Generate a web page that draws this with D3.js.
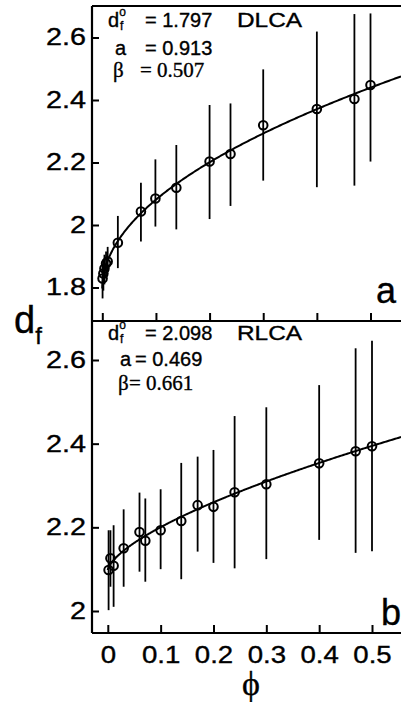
<!DOCTYPE html>
<html>
<head>
<meta charset="utf-8">
<script src="https://cdn.jsdelivr.net/npm/d3@7"></script>
<style>
  html, body { margin: 0; padding: 0; background: #fff; }
  svg { display: block; }
  .sans { font-family: "Liberation Sans", Arial, Helvetica, sans-serif; }
  .serif { font-family: "Liberation Serif", "Times New Roman", "DejaVu Serif", serif; }
  text { stroke: #000; stroke-width: 0.35px; }
</style>
</head>
<body>
<svg id="chart" width="401" height="702"></svg>
<script>
// Fractal dimension d_f versus volume fraction phi, two aggregation regimes.
// Panel a: DLCA
const dlcaPhi = [0.0005, 0.002, 0.004, 0.007, 0.010, 0.029, 0.072, 0.099, 0.138, 0.200, 0.239, 0.300, 0.400, 0.470, 0.500];
const dlcaDf  = [1.829, 1.845, 1.861, 1.877, 1.883, 1.943, 2.043, 2.085, 2.119, 2.203, 2.227, 2.319, 2.371, 2.403, 2.448];
const dlcaLo  = [1.765, 1.790, 1.810, 1.830, 1.850, 1.862, 1.947, 1.995, 1.986, 2.019, 2.061, 2.142, 2.121, 2.126, 2.203];
const dlcaHi  = [1.870, 1.890, 1.905, 1.915, 1.930, 2.029, 2.135, 2.210, 2.256, 2.384, 2.389, 2.498, 2.619, 2.675, 2.677];
const dlcaFit = { d0: 1.797, a: 0.913, beta: 0.507 };

// Panel b: RLCA
const rlcaPhi = [0.0015, 0.005, 0.011, 0.030, 0.060, 0.071, 0.100, 0.139, 0.170, 0.200, 0.240, 0.300, 0.400, 0.469, 0.500];
const rlcaDf  = [2.098, 2.126, 2.108, 2.150, 2.189, 2.168, 2.193, 2.215, 2.253, 2.249, 2.284, 2.303, 2.353, 2.382, 2.394];
const rlcaLo  = [2.002, 2.058, 2.010, 2.058, 2.094, 2.070, 2.100, 2.076, 2.142, 2.115, 2.102, 2.124, 2.170, 2.139, 2.143];
const rlcaHi  = [2.193, 2.193, 2.205, 2.243, 2.283, 2.269, 2.291, 2.354, 2.369, 2.385, 2.466, 2.487, 2.540, 2.628, 2.646];
const rlcaFit = { d0: 2.098, a: 0.469, beta: 0.661 };

// Tick values
const xTicks = [0, 0.1, 0.2, 0.3, 0.4, 0.5];
const yTicksA = [1.8, 2, 2.2, 2.4, 2.6];
const yTicksB = [2, 2.2, 2.4, 2.6];

const svg = d3.select("#chart");
const W = 401;
const frameLeft = 92;

// horizontal stretch about a text's own anchor x
const stretch = (x, s) => `translate(${x},0) scale(${s},1) translate(${-x},0)`;

const panels = [
  {
    phi: dlcaPhi, df: dlcaDf, lo: dlcaLo, hi: dlcaHi, fit: dlcaFit, yTicks: yTicksA,
    top: 6, bottom: 321, showXLabels: false,
    x: d3.scaleLinear().domain([0, 0.5]).range([102.3, 370.5]),
    y: d3.scaleLinear().domain([1.8, 2.6]).range([287.5, 37.5]),
    letter: "a", letterPos: [376, 303],
    name: "DLCA", d0txt: "= 1.797", atxt: "= 0.913", btxt: "= 0.507",
    rows: { base: [27, 55, 77], dX: 108, eqX: 145, nameX: 237, aX: 115, aEqX: 145, bX: 113, bEqX: 140 }
  },
  {
    phi: rlcaPhi, df: rlcaDf, lo: rlcaLo, hi: rlcaHi, fit: rlcaFit, yTicks: yTicksB,
    top: 321, bottom: 633, showXLabels: true,
    x: d3.scaleLinear().domain([0, 0.5]).range([107.8, 372]),
    y: d3.scaleLinear().domain([2, 2.6]).range([611, 360]),
    letter: "b", letterPos: [381, 625],
    name: "RLCA", d0txt: "= 2.098", atxt: "= 0.469", btxt: "= 0.661",
    rows: { base: [340, 366, 390], dX: 108, eqX: 145, nameX: 237, aX: 120, aEqX: 135, bX: 118, bEqX: 129 }
  }
];

panels.forEach((p, i) => {
  const g = svg.append("g");
  const clipId = "clip" + i;
  svg.append("clipPath").attr("id", clipId)
    .append("rect").attr("x", frameLeft).attr("y", p.top).attr("width", W - frameLeft).attr("height", p.bottom - p.top);

  // y axis with inward ticks
  const yAxis = d3.axisLeft(p.y).tickValues(p.yTicks).tickSizeInner(-7).tickSizeOuter(0).tickPadding(6)
    .tickFormat(d => String(d));
  const ya = g.append("g").attr("transform", `translate(${frameLeft},0)`).call(yAxis);
  ya.select(".domain").remove();
  ya.selectAll(".tick line").attr("stroke", "#000").attr("stroke-width", 2);
  ya.selectAll(".tick text").attr("class", "sans").attr("font-size", 23).attr("fill", "#000")
    .attr("x", null).attr("transform", "translate(-6,0) scale(1.25,1)");

  // x axis with inward ticks
  const xAxis = d3.axisBottom(p.x).tickValues(xTicks).tickSizeInner(-8).tickSizeOuter(0).tickPadding(14)
    .tickFormat(d => p.showXLabels ? (d === 0 ? "0" : d3.format(".1f")(d)) : "");
  const xa = g.append("g").attr("transform", `translate(0,${p.bottom})`).call(xAxis);
  xa.select(".domain").remove();
  xa.selectAll(".tick line").attr("stroke", "#000").attr("stroke-width", 2);
  xa.selectAll(".tick text").attr("class", "sans").attr("font-size", 23).attr("fill", "#000")
    .attr("transform", "scale(1.2,1)");

  // frame lines
  const frame = [
    [frameLeft, p.top, frameLeft, p.bottom],
    [frameLeft, p.top, W, p.top],
    [frameLeft, p.bottom, W, p.bottom]
  ];
  g.selectAll(".frame").data(frame).join("line")
    .attr("x1", d => d[0]).attr("y1", d => d[1]).attr("x2", d => d[2]).attr("y2", d => d[3])
    .attr("stroke", "#000").attr("stroke-width", 2.2);

  const plot = g.append("g").attr("clip-path", `url(#${clipId})`);

  // fitted curve d_f = d0 + a * phi^beta
  const phiMax = p.x.invert(W);
  const fitPts = d3.range(0, 401).map(k => phiMax * Math.pow(k / 400, 2));
  const line = d3.line()
    .x(f => p.x(f))
    .y(f => p.y(p.fit.d0 + p.fit.a * Math.pow(f, p.fit.beta)));
  plot.append("path").datum(fitPts).attr("d", line)
    .attr("fill", "none").attr("stroke", "#000").attr("stroke-width", 2);

  const idx = d3.range(p.phi.length);
  // error bars
  plot.selectAll(".err").data(idx).join("line")
    .attr("x1", k => p.x(p.phi[k])).attr("x2", k => p.x(p.phi[k]))
    .attr("y1", k => p.y(p.lo[k])).attr("y2", k => p.y(p.hi[k]))
    .attr("stroke", "#000").attr("stroke-width", 1.8);
  // markers
  plot.selectAll(".pt").data(idx).join("circle")
    .attr("cx", k => p.x(p.phi[k])).attr("cy", k => p.y(p.df[k])).attr("r", 4.3)
    .attr("fill", "none").attr("stroke", "#000").attr("stroke-width", 2);

  // fit parameter annotations
  const r = p.rows;
  const t = g.append("g").attr("fill", "#000");
  const d0 = t.append("text").attr("class", "sans").attr("x", r.dX).attr("y", r.base[0]).attr("font-size", 20);
  d0.append("tspan").text("d");
  d0.append("tspan").attr("font-size", 12).attr("dy", -11).text("o");
  d0.append("tspan").attr("font-size", 12).attr("x", r.dX + 12).attr("dy", 14).text("f");
  d0.append("tspan").attr("x", r.eqX).attr("dy", -3).text(p.d0txt);
  t.append("text").attr("class", "sans").attr("x", r.nameX).attr("y", r.base[0]).attr("font-size", 20)
    .attr("transform", stretch(r.nameX, 1.22)).text(p.name);
  t.append("text").attr("class", "sans").attr("x", r.aX).attr("y", r.base[1]).attr("font-size", 20).text("a");
  t.append("text").attr("class", "sans").attr("x", r.aEqX).attr("y", r.base[1]).attr("font-size", 20).text(p.atxt);
  t.append("text").attr("class", "serif").attr("x", r.bX).attr("y", r.base[2]).attr("font-size", 21).text("β");
  t.append("text").attr("class", "serif").attr("x", r.bEqX).attr("y", r.base[2]).attr("font-size", 21).text(p.btxt);

  // panel letter
  g.append("text").attr("class", "sans").attr("x", p.letterPos[0]).attr("y", p.letterPos[1])
    .attr("font-size", 36).attr("fill", "#000").text(p.letter);
});

// axis titles
const yTitle = svg.append("text").attr("class", "sans").attr("x", 14).attr("y", 333).attr("font-size", 38).attr("fill", "#000");
yTitle.append("tspan").text("d");
yTitle.append("tspan").attr("font-size", 24).attr("dy", 11).text("f");
svg.append("text").attr("class", "serif").attr("x", 251).attr("y", 695).attr("text-anchor", "middle")
  .attr("font-size", 34).attr("fill", "#000").text("ϕ");
</script>
</body>
</html>
